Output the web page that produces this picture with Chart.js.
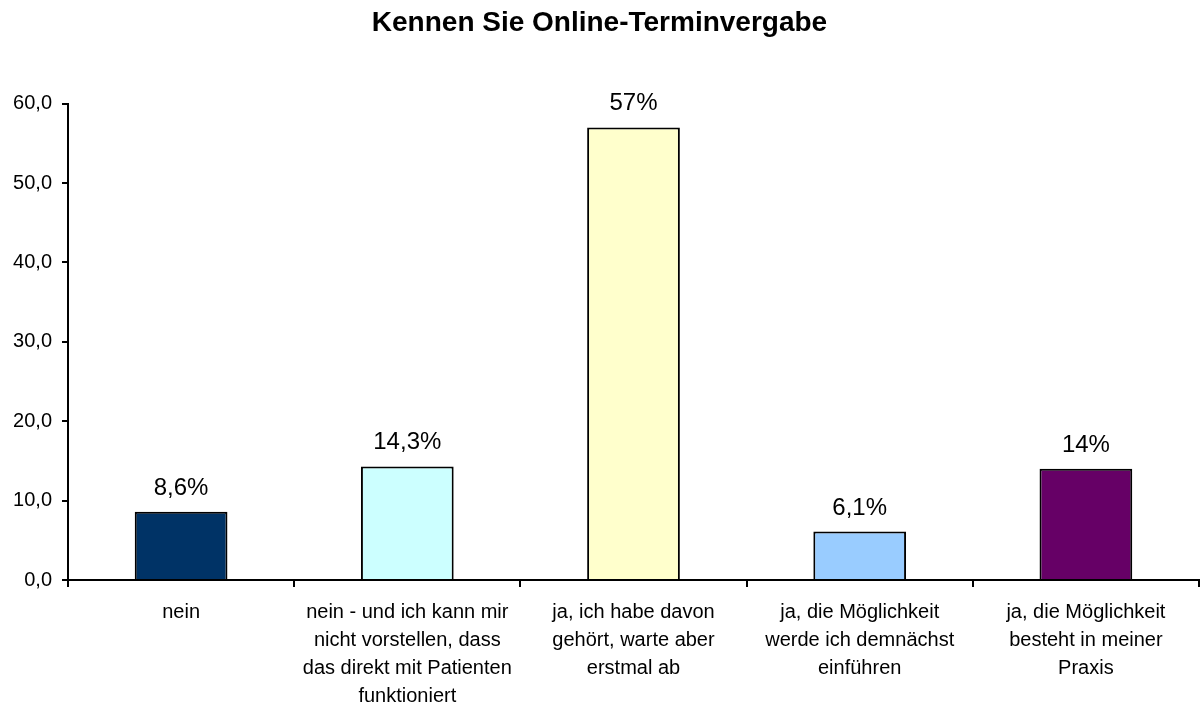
<!DOCTYPE html>
<html>
<head>
<meta charset="utf-8">
<script src="https://cdn.jsdelivr.net/npm/chart.js@4.4.0/dist/chart.umd.min.js"></script>
<style>
  html, body { margin: 0; padding: 0; background: #fff; }
  #wrap { width: 1200px; height: 706px; }
</style>
</head>
<body>
<div id="wrap"><canvas id="chart"></canvas></div>
<script>
const TITLE = "Kennen Sie Online-Terminvergabe";
const categories = [
  ["nein"],
  ["nein - und ich kann mir", "nicht vorstellen, dass", "das direkt mit Patienten", "funktioniert"],
  ["ja, ich habe davon", "gehört, warte aber", "erstmal ab"],
  ["ja, die Möglichkeit", "werde ich demnächst", "einführen"],
  ["ja, die Möglichkeit", "besteht in meiner", "Praxis"]
];
const values = [8.6, 14.3, 57, 6.1, 14];
const valueLabels = ["8,6%", "14,3%", "57%", "6,1%", "14%"];
const barColors = ["#003366", "#CCFFFF", "#FFFFCC", "#99CCFF", "#660066"];
const yMin = 0, yMax = 60, yStep = 10;

const FONT = "'Liberation Sans', Arial, sans-serif";

// value labels above the bars
const barLabels = {
  id: "barLabels",
  afterDatasetsDraw(chart) {
    const c = chart.ctx;
    const meta = chart.getDatasetMeta(0);
    c.save();
    c.font = "24px " + FONT;
    c.fillStyle = "#000";
    c.textAlign = "center";
    c.textBaseline = "alphabetic";
    meta.data.forEach((bar, i) => {
      c.fillText(valueLabels[i], bar.x, bar.y - 17);
    });
    c.restore();
  }
};

new Chart(document.getElementById("chart"), {
  type: "bar",
  data: {
    labels: categories,
    datasets: [{
      data: values,
      backgroundColor: barColors,
      borderColor: "#000",
      borderWidth: 2,
      barPercentage: 0.41,
      categoryPercentage: 1
    }]
  },
  options: {
    responsive: true,
    maintainAspectRatio: false,
    animation: false,
    layout: { padding: { top: 0, right: 1, bottom: 0, left: 0 } },
    plugins: {
      legend: { display: false },
      tooltip: { enabled: false },
      title: {
        display: true,
        text: TITLE,
        color: "#000",
        font: { family: FONT, size: 28, weight: "bold" },
        padding: { top: 6, bottom: 64 }
      }
    },
    scales: {
      x: {
        grid: { offset: true, drawOnChartArea: false, color: "#000", tickLength: 7, lineWidth: 2 },
        border: { color: "#000", width: 2 },
        ticks: {
          color: "#000",
          font: { family: FONT, size: 20, lineHeight: 1.4 },
          padding: 11,
          maxRotation: 0,
          autoSkip: false
        },
        afterFit(scale) { scale.height = 126; }
      },
      y: {
        min: yMin,
        max: yMax,
        grid: { drawOnChartArea: false, color: "#000", tickLength: 6, lineWidth: 2 },
        border: { color: "#000", width: 2 },
        ticks: {
          stepSize: yStep,
          color: "#000",
          font: { family: FONT, size: 20 },
          padding: 10,
          callback: v => v.toFixed(1).replace(".", ",")
        },
        afterFit(scale) { scale.width = 68; }
      }
    }
  },
  plugins: [barLabels]
});
</script>
</body>
</html>
